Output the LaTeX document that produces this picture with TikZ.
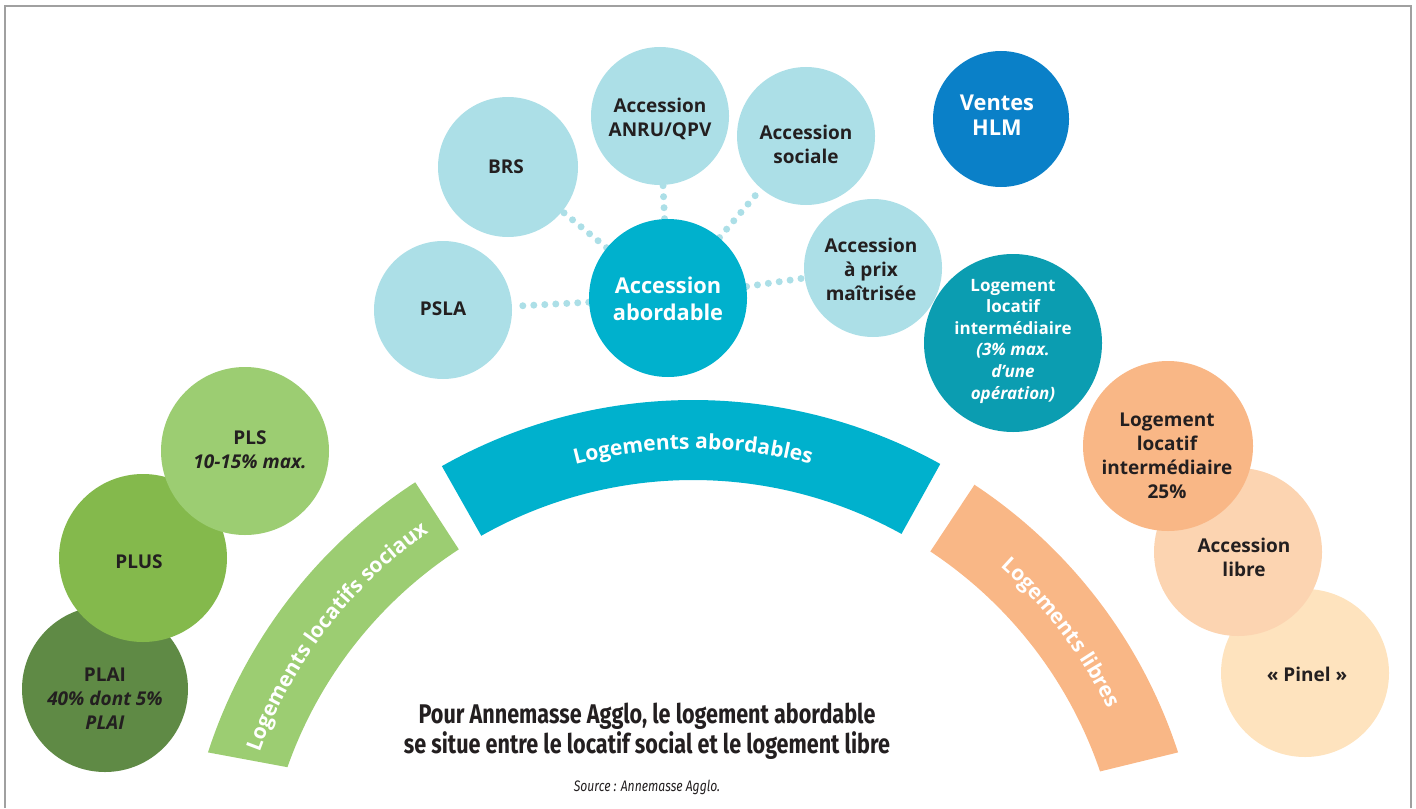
\documentclass[tikz,border=0pt]{standalone}
\usepackage{fontspec}
\setmainfont{Open Sans}
\newfontfamily\titlefont[FakeStretch=0.80]{Fira Sans}
\usetikzlibrary{calc,decorations.text,backgrounds}
\definecolor{ink}{HTML}{231F20}
\definecolor{gdark}{HTML}{5F8A45}
\definecolor{gmid}{HTML}{84B94C}
\definecolor{glight}{HTML}{9CCD72}
\definecolor{cteal}{HTML}{00B1CD}
\definecolor{cpale}{HTML}{ACDFE7}
\definecolor{cdteal}{HTML}{0B9DB1}
\definecolor{cblue}{HTML}{0A80C8}
\definecolor{corange}{HTML}{F9B786}
\definecolor{cpeach}{HTML}{FCD4B1}
\definecolor{ccream}{HTML}{FEE3BE}
\definecolor{cframe}{HTML}{A0A0A0}
\begin{document}
\begin{tikzpicture}[x=0.5pt,y=-0.5pt,
  disc/.style={circle, draw=none, inner sep=0pt, minimum size=#1},
  lbl/.style={align=center, inner sep=0pt, text=ink, font=\fontsize{9.5}{12}\selectfont\bfseries},
  wlbl/.style={lbl, text=white},
  dotline/.style={draw=cpale, line width=3.5pt, line cap=round, dash pattern=on 0pt off 5.5pt},
  bandtext/.style={decorate, decoration={text along path, text align=center, text color=white,
     text={|\fontsize{10.5}{12}\selectfont\bfseries|#1}}}
]
\useasboundingbox (0,0) rectangle (1416,808);
% frame
\draw[cframe, line width=1pt] (5,808) -- (5,6) -- (1411,6) -- (1411,808);

% bands
\coordinate (C) at (693,910);
\fill[glight] ($(C)+(-162:510)$) arc[start angle=-162, end angle=-123, radius=510]
   -- ($(C)+(-123:430)$) arc[start angle=-123, end angle=-160.6, radius=430] -- cycle;
\fill[cteal] ($(C)+(-119.5:510)$) arc[start angle=-119.5, end angle=-61, radius=510]
   -- ($(C)+(-61:430)$) arc[start angle=-61, end angle=-119.5, radius=430] -- cycle;
\fill[corange] ($(C)+(-56.5:510)$) arc[start angle=-56.5, end angle=-18, radius=510]
   -- ($(C)+(-18.8:430)$) arc[start angle=-18.8, end angle=-56.5, radius=430] -- cycle;
\path[bandtext={Logements locatifs sociaux}] ($(C)+(-163:461)$) arc[start angle=-163, end angle=-122, radius=461];
\path[bandtext={Logements abordables}] ($(C)+(-117:461)$) arc[start angle=-117, end angle=-63, radius=461];
\path[bandtext={Logements libres}] ($(C)+(-57:461)$) arc[start angle=-57, end angle=-17, radius=461];

% upper cluster
\node[disc=69pt, fill=cpale] (psla) at (443,310) {};
\node[disc=70pt, fill=cpale] (brs) at (508,167) {};
\node[disc=69pt, fill=cpale] (anru) at (660,116) {};
\node[disc=69pt, fill=cpale] (soc) at (806,136) {};
\node[disc=69pt, fill=cpale] (prix) at (873,268) {};
\node[disc=79pt, fill=cteal] (aa) at (668,298) {};
% connectors, behind the circles
\begin{pgfonlayer}{background}
\draw[dotline] (aa) -- (psla);
\draw[dotline] (aa) -- (brs);
\draw[dotline] (aa) -- (anru);
\draw[dotline] (aa) -- (soc);
\draw[dotline] (aa) -- (prix);
\end{pgfonlayer}

\node[disc=68pt, fill=cblue] (hlm) at (1001,119) {};
\node[disc=89pt, fill=cdteal] (lli) at (1013,343) {};

% left green stack
\node[disc=83pt, fill=gdark] (plai) at (105,689) {};
\node[disc=84pt, fill=gmid] (plus) at (143,558) {};
\node[disc=84pt, fill=glight] (pls) at (245,451) {};

% right orange stack
\node[disc=84pt, fill=ccream] (pinel) at (1305,673) {};
\node[disc=84pt, fill=cpeach] (alibre) at (1238,552) {};
\node[disc=85pt, fill=corange] (lli25) at (1168,446) {};

% labels
\node[lbl] (tpsla) at (443,309) {PSLA};
\node[lbl] (tbrs) at (506,167) {BRS};
\node[lbl] (tanru) at (660,119) {Accession\\ANRU/QPV};
\node[lbl] (tsoc) at (806,144) {Accession\\sociale};
\node[lbl] (tprix) at (871,269) {Accession\\à prix\\maîtrisée};
\node[wlbl, font=\fontsize{10.9}{13.8}\selectfont\bfseries] (taa) at (668,299) {Accession\\abordable};
\node[wlbl, font=\fontsize{10.9}{12.6}\selectfont\bfseries] (thlm) at (997,115) {Ventes\\HLM};
\node[wlbl, font=\fontsize{8.5}{10.8}\selectfont\bfseries] (tlli) at (1013,341) {Logement\\locatif\\intermédiaire\\\textit{(3\% max.}\\\textit{d’une}\\\textit{opération)}};
\node[lbl] (tpls) at (250,450) {PLS\\\textit{10-15\% max.}};
\node[lbl] (tplus) at (139,562) {PLUS};
\node[lbl] (tplai) at (105,699) {PLAI\\\textit{40\% dont 5\%}\\\textit{PLAI}};
\node[lbl] (tlli25) at (1167,456) {Logement\\locatif\\intermédiaire\\25\%};
\node[lbl] (talibre) at (1244,557) {Accession\\libre};
\node[lbl] (tpinel) at (1307,674) {«~Pinel~»};

% title and source
\node[align=center, text=ink, inner sep=0pt, font=\titlefont\fontsize{13.5}{12.4}\selectfont\bfseries] (title) at (647,731)
  {Pour Annemasse Agglo, le logement abordable\\se situe entre le locatif social et le logement libre};
\node[text=ink, inner sep=0pt, font=\titlefont\fontsize{7.6}{9}\selectfont\itshape] (src) at (647,787) {Source : Annemasse Agglo.};
\end{tikzpicture}
\end{document}
